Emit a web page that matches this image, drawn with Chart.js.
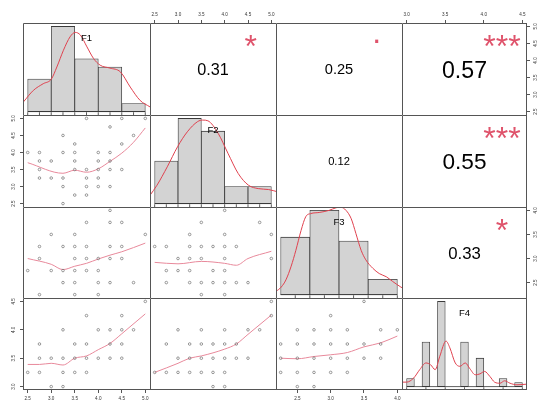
<!DOCTYPE html>
<html lang="en">
<head>
<meta charset="UTF-8">
<title>Correlation matrix F1-F4</title>
<script src="https://cdn.jsdelivr.net/npm/chart.js@4.4.1/dist/chart.umd.min.js"></script>
<style>
    body { margin: 0; background: #fff; overflow: hidden; }
    #grid { position: relative; width: 552px; height: 414px; background: #fff; }
    .cell { position: absolute; }
    .cell canvas { display: block; }
</style>
</head>
<body>
<div id="grid"></div>
<script>
// ---- data ----
const varNames = ['F1', 'F2', 'F3', 'F4'];

// observed min / max of each variable
const rangeF1 = [2.5, 5.0];
const rangeF2 = [2.5, 5.0];
const rangeF3 = [2.25, 4.0];
const rangeF4 = [3.0, 4.5];

// outer axis tick labels
const ticksF1 = [2.5, 3.0, 3.5, 4.0, 4.5, 5.0];
const ticksF2 = [2.5, 3.0, 3.5, 4.0, 4.5, 5.0];
const ticksF3 = [2.5, 3.0, 3.5, 4.0];
const ticksF4 = [3.0, 3.5, 4.0, 4.5];

// histograms (diagonal)
const breaksF1 = [2.5, 3.0, 3.5, 4.0, 4.5, 5.0];
const countsF1 = [8, 21, 13, 11, 2];
const breaksF2 = [2.5, 3.0, 3.5, 4.0, 4.5, 5.0];
const countsF2 = [10, 20, 17, 4, 4];
const breaksF3 = [2.0, 2.5, 3.0, 3.5, 4.0];
const countsF3 = [15, 22, 14, 4];
const breaksF4 = [3.0, 3.1, 3.2, 3.3, 3.4, 3.5, 3.6, 3.7, 3.8, 3.9, 4.0, 4.1, 4.2, 4.3, 4.4, 4.5];
const countsF4 = [2, 0, 11, 0, 21, 0, 0, 11, 0, 7, 0, 0, 2, 0, 1];

// distinct values (rug)
const rugF1 = [2.5, 2.75, 3.0, 3.25, 3.5, 3.75, 4.0, 4.25, 4.5, 4.75, 5.0];
const rugF2 = [2.5, 2.75, 3.0, 3.25, 3.5, 3.75, 4.0, 4.25, 4.5, 4.75, 5.0];
const rugF3 = [2.25, 2.5, 2.75, 3.0, 3.25, 3.5, 3.75, 4.0];
const rugF4 = [3.0, 3.25, 3.5, 3.75, 4.0, 4.25, 4.5];

// kernel density curves [x, density]
const densF1 = [[2.41,0.087],[2.62,0.19],[2.83,0.25],[3.0,0.29],[3.12,0.40],[3.26,0.55],[3.40,0.67],[3.51,0.71],[3.62,0.686],[3.76,0.58],[3.90,0.476],[4.04,0.416],[4.25,0.39],[4.47,0.356],[4.68,0.22],[4.89,0.10],[5.10,0.042]];
const densF2 = [[2.40,0.071],[2.55,0.157],[2.77,0.314],[2.99,0.485],[3.20,0.613],[3.42,0.70],[3.53,0.713],[3.64,0.707],[3.86,0.60],[4.07,0.43],[4.29,0.257],[4.51,0.157],[4.72,0.128],[4.94,0.12],[5.14,0.10]];
const densF3 = [[1.92,0.03],[2.01,0.072],[2.09,0.14],[2.18,0.27],[2.26,0.42],[2.35,0.61],[2.43,0.74],[2.52,0.77],[2.66,0.78],[2.83,0.80],[2.95,0.825],[3.03,0.83],[3.12,0.80],[3.21,0.72],[3.29,0.58],[3.38,0.42],[3.46,0.33],[3.58,0.25],[3.69,0.20],[3.81,0.17],[3.92,0.125],[4.06,0.072],[4.10,0.06]];
const densF4 = [[2.94,0.2],[3.0,0.2],[3.09,0.38],[3.17,0.76],[3.25,1.06],[3.31,0.98],[3.37,0.76],[3.43,1.36],[3.51,2.04],[3.56,1.74],[3.63,1.06],[3.69,0.91],[3.76,1.06],[3.82,0.8],[3.89,0.53],[3.95,0.57],[4.01,0.68],[4.08,0.45],[4.14,0.2],[4.21,0.15],[4.27,0.26],[4.34,0.15],[4.43,0.08],[4.56,0.11]];

// scatter points [x, y] (lower panels), x = column variable, y = row variable
const ptsF1F2 = [[3.75,5],[4.5,5],[5,5],[4.25,4.75],[3.25,4.5],[4.75,4.5],[3.5,4.25],[4.5,4.25],
    [2.5,4],[2.75,4],[3.25,4],[3.5,4],[4,4],[4.25,4],
    [2.75,3.75],[3,3.75],[3.5,3.75],[4,3.75],[4.25,3.75],
    [2.75,3.5],[3.5,3.5],[3.75,3.5],[4,3.5],[4.25,3.5],[4.5,3.5],
    [2.75,3.25],[3,3.25],[3.25,3.25],[3.75,3.25],[4,3.25],
    [3.25,3],[3.75,3],[4,3],[4.25,3],[3.5,2.75],[3.75,2.75],[3.25,2.5]];
const ptsF1F3 = [[4.25,4],[3.75,3.75],[4.25,3.75],[4.5,3.75],[3,3.5],[3.5,3.5],[5,3.5],
    [2.75,3.25],[3.25,3.25],[3.5,3.25],[3.75,3.25],[4.25,3.25],[4.5,3.25],
    [2.75,3],[3.5,3],[3.75,3],[4,3],[4.25,3],[4.5,3],
    [2.5,2.75],[3,2.75],[3.25,2.75],[3.5,2.75],[3.75,2.75],[4,2.75],
    [3.25,2.5],[3.5,2.5],[4,2.5],[4.25,2.5],[4.75,2.5],
    [2.75,2.25],[3.5,2.25],[4,2.25]];
const ptsF2F3 = [[4,4],[3.5,3.75],[4.75,3.75],[3.25,3.5],[4,3.5],[5,3.5],
    [2.5,3.25],[2.75,3.25],[3.25,3.25],[3.5,3.25],[3.75,3.25],[4,3.25],[4.25,3.25],
    [3,3],[3.25,3],[3.5,3],[4,3],[5,3],
    [2.75,2.75],[3,2.75],[3.25,2.75],[3.75,2.75],[4,2.75],
    [2.75,2.5],[3.25,2.5],[3.5,2.5],[3.75,2.5],[4,2.5],[4.25,2.5],[4.5,2.5],
    [3.5,2.25],[4,2.25]];
const ptsF1F4 = [[5,4.5],[3.75,4.25],[4.5,4.25],[3.25,4],[4,4],[4.25,4],[4.5,4],[4.75,4],
    [2.75,3.75],[3.5,3.75],[3.75,3.75],[4.25,3.75],[4.5,3.75],
    [2.75,3.5],[3,3.5],[3.25,3.5],[3.5,3.5],[3.75,3.5],[4,3.5],[4.25,3.5],[4.5,3.5],
    [2.5,3.25],[2.75,3.25],[3.25,3.25],[3.5,3.25],[3.75,3.25],
    [3,3],[3.25,3]];
const ptsF2F4 = [[5,4.5],[5,4.25],[3,4],[3.5,4],[4,4],[4.5,4],[4.75,4],
    [2.75,3.75],[3.25,3.75],[3.5,3.75],[3.75,3.75],[4,3.75],[4.25,3.75],
    [3,3.5],[3.25,3.5],[3.5,3.5],[3.75,3.5],[4,3.5],[4.25,3.5],[4.5,3.5],
    [2.5,3.25],[2.75,3.25],[3,3.25],[3.25,3.25],[3.5,3.25],[3.75,3.25],[4,3.25],
    [3.75,3],[4,3]];
const ptsF3F4 = [[3.5,4.5],[3,4.25],[2.5,4],[2.75,4],[3,4],[3.25,4],[3.75,4],[4,4],
    [2.25,3.75],[2.5,3.75],[2.75,3.75],[3,3.75],[3.25,3.75],[3.5,3.75],[3.75,3.75],
    [2.25,3.5],[2.5,3.5],[2.75,3.5],[3,3.5],[3.25,3.5],[3.5,3.5],[3.75,3.5],
    [2.25,3.25],[2.5,3.25],[2.75,3.25],[3,3.25],[3.25,3.25],
    [2.5,3],[2.75,3]];

// smoother lines through each scatter
const smoothF1F2 = [[2.5,3.70],[3.25,3.39],[3.5,3.48],[3.75,3.42],[4.0,3.52],[4.25,3.74],[4.5,3.98],[4.75,4.30],[5.0,4.72]];
const smoothF1F3 = [[2.5,3.0],[3.0,2.88],[3.25,2.77],[3.5,2.84],[3.75,2.9],[4.0,2.99],[4.25,3.07],[4.5,3.14],[5.0,3.32]];
const smoothF2F3 = [[2.5,2.92],[3.0,2.89],[3.5,2.94],[4.0,2.9],[4.25,2.86],[4.5,3.0],[5.0,3.15]];
const smoothF1F4 = [[2.5,3.39],[2.75,3.39],[3.0,3.41],[3.25,3.38],[3.5,3.5],[3.75,3.54],[4.0,3.65],[4.25,3.76],[4.5,3.93],[5.0,4.28]];
const smoothF2F4 = [[2.5,3.25],[3.0,3.41],[3.25,3.5],[3.5,3.54],[4.0,3.66],[4.25,3.75],[4.5,3.92],[5.0,4.26]];
const smoothF3F4 = [[2.25,3.5],[2.5,3.49],[2.75,3.53],[3.0,3.56],[3.25,3.6],[3.5,3.7],[3.75,3.77],[4.0,3.89]];

// correlations (upper panels)
const corPairs = ['F1F2', 'F1F3', 'F1F4', 'F2F3', 'F2F4', 'F3F4'];
const corValues = [0.31, 0.25, 0.57, 0.12, 0.55, 0.33];
const corStars = ['*', '.', '***', '', '***', '*'];

// ---- lookup tables built from the arrays above ----
const ranges = { F1: rangeF1, F2: rangeF2, F3: rangeF3, F4: rangeF4 };
const tickSets = { F1: ticksF1, F2: ticksF2, F3: ticksF3, F4: ticksF4 };
const hists = {
    F1: [breaksF1, countsF1, densF1, rugF1],
    F2: [breaksF2, countsF2, densF2, rugF2],
    F3: [breaksF3, countsF3, densF3, rugF3],
    F4: [breaksF4, countsF4, densF4, rugF4]
};
const scatters = {
    F1F2: [ptsF1F2, smoothF1F2], F1F3: [ptsF1F3, smoothF1F3], F2F3: [ptsF2F3, smoothF2F3],
    F1F4: [ptsF1F4, smoothF1F4], F2F4: [ptsF2F4, smoothF2F4], F3F4: [ptsF3F4, smoothF3F4]
};

// ---- layout ----
const colEdges = [23, 150, 276, 402, 527];
const rowEdges = [23, 115, 207, 298, 390];
const BAND = 22;
const FONT = '"Liberation Sans", Arial, sans-serif';
const RED = '#df536b';

const toXY = arr => arr.map(p => ({ x: p[0], y: p[1] }));

// panel box (R draws a box round every panel)
const framePlugin = {
    id: 'frame',
    afterDraw(chart, args, o) {
        const { ctx, chartArea: a } = chart;
        ctx.save();
        ctx.strokeStyle = '#555';
        ctx.lineWidth = 1;
        ctx.beginPath();
        ctx.moveTo(a.left + 0.5, a.bottom);
        ctx.lineTo(a.left + 0.5, a.top + 0.5);
        ctx.lineTo(a.right, a.top + 0.5);
        if (o.right) { ctx.moveTo(a.right - 0.5, a.top); ctx.lineTo(a.right - 0.5, a.bottom); }
        if (o.bottom) { ctx.moveTo(a.left, a.bottom - 0.5); ctx.lineTo(a.right, a.bottom - 0.5); }
        ctx.stroke();
        ctx.restore();
    }
};

// text placed in panel fractions (u, v), ink centred vertically like R does
const textPlugin = {
    id: 'panelText',
    afterDatasetsDraw(chart, args, o) {
        const items = o.items || [];
        const { ctx, chartArea: a } = chart;
        for (const t of items) {
            ctx.save();
            ctx.font = t.size + 'px ' + FONT;
            ctx.fillStyle = t.color;
            ctx.textAlign = 'center';
            ctx.textBaseline = 'alphabetic';
            const m = ctx.measureText(t.text);
            const x = a.left + t.u * (a.right - a.left);
            const y = a.bottom - t.v * (a.bottom - a.top);
            ctx.fillText(t.text, x, y + (m.actualBoundingBoxAscent - m.actualBoundingBoxDescent) / 2);
            ctx.restore();
        }
    }
};
Chart.register(framePlugin, textPlugin);

// scale for a variable, optionally shown as an outer axis
function varScale(name, pos) {
    const [lo, hi] = ranges[name];
    const pad = (hi - lo) * 0.04;
    const s = { type: 'linear', min: lo - pad, max: hi + pad, display: false, offset: false };
    if (!pos) return s;
    const vertical = pos === 'left' || pos === 'right';
    return Object.assign(s, {
        display: true,
        position: pos,
        grid: { drawOnChartArea: false, drawTicks: true, tickLength: 3, color: '#555', lineWidth: 1 },
        border: { display: false },
        ticks: {
            font: { size: 4.6, family: FONT },
            color: '#333',
            padding: 3,
            autoSkip: false,
            minRotation: vertical ? 90 : 0,
            maxRotation: vertical ? 90 : 0,
            crossAlign: vertical ? 'center' : 'near',
            callback: v => v.toFixed(1)
        },
        afterBuildTicks: sc => { sc.ticks = tickSets[name].map(v => ({ value: v })); },
        afterFit: sc => {
            if (vertical) sc.width = BAND; else sc.height = BAND;
            // keep the plot area equal to the panel: no room for overhanging labels
            sc.paddingTop = sc.paddingBottom = sc.paddingLeft = sc.paddingRight = 0;
        }
    });
}

function baseOptions(scales, texts) {
    return {
        responsive: true,
        maintainAspectRatio: false,
        animation: false,
        events: [],
        layout: { padding: 0, autoPadding: false },
        plugins: {
            legend: { display: false },
            tooltip: { enabled: false },
            panelText: { items: texts }
        },
        scales
    };
}

function histConfig(name) {
    const [breaks, counts, dens, rug] = hists[name];
    const n = counts.reduce((a, b) => a + b, 0);
    const bars = counts.map((c, i) => ({
        x: (breaks[i] + breaks[i + 1]) / 2,
        y: c / (n * (breaks[i + 1] - breaks[i]))
    }));
    const top = Math.max(...bars.map(b => b.y));
    const lo = breaks[0], hi = breaks[breaks.length - 1], pad = (hi - lo) * 0.04;
    return {
        type: 'bar',
        data: {
            datasets: [
                { data: bars, backgroundColor: '#d3d3d3', borderColor: '#3a3a3a', borderWidth: 0.8,
                  borderSkipped: false, barPercentage: 1, categoryPercentage: 1, order: 4 },
                { type: 'line', data: [{ x: lo, y: 0 }, { x: hi, y: 0 }], borderColor: '#3a3a3a',
                  borderWidth: 0.8, pointRadius: 0, order: 3 },
                { type: 'line', data: rug.map(v => ({ x: v, y: -0.024 * top })), showLine: false,
                  pointStyle: 'line', rotation: 90, pointRadius: 1.4, pointBorderColor: '#333',
                  pointBorderWidth: 0.8, order: 2 },
                { type: 'line', data: toXY(dens), borderColor: '#e0424f', borderWidth: 1,
                  pointRadius: 0, cubicInterpolationMode: 'monotone', order: 1 }
            ]
        },
        options: baseOptions({
            x: { type: 'linear', min: lo - pad, max: hi + pad, display: false, offset: false },
            y: { type: 'linear', min: -0.04 * top, max: 1.04 * top, display: false }
        }, [{ u: 0.5, v: 0.833, text: name, size: 9.5, color: '#000' }])
    };
}

function scatterConfig(xName, yName, sides) {
    const [pts, smooth] = scatters[xName + yName];
    return {
        type: 'scatter',
        data: {
            datasets: [
                { data: toXY(pts), pointStyle: 'circle', pointRadius: 1.3, borderWidth: 0.7,
                  borderColor: '#707070', backgroundColor: 'rgba(0,0,0,0)' },
                { type: 'line', data: toXY(smooth), borderColor: '#e8899b', borderWidth: 1,
                  pointRadius: 0, cubicInterpolationMode: 'monotone', fill: false }
            ]
        },
        options: baseOptions({
            x: varScale(xName, sides.top ? 'top' : sides.bottom ? 'bottom' : null),
            y: varScale(yName, sides.left ? 'left' : sides.right ? 'right' : null)
        }, [])
    };
}

function corConfig(rowName, colName, sides) {
    const k = corPairs.indexOf(rowName + colName);
    const r = corValues[k];
    const texts = [{ u: 0.5, v: 0.5, text: r.toFixed(2), size: 26.6 * (Math.abs(r) + 0.3), color: '#000' }];
    if (corStars[k]) texts.push({ u: 0.8, v: 0.8, text: corStars[k], size: 32, color: RED });
    return {
        type: 'scatter',
        data: { datasets: [] },
        options: baseOptions({
            x: varScale(colName, sides.top ? 'top' : sides.bottom ? 'bottom' : null),
            y: varScale(rowName, sides.left ? 'left' : sides.right ? 'right' : null)
        }, texts)
    };
}

const grid = document.getElementById('grid');

function mount(r, c, sides, cfg) {
    const x0 = colEdges[c] - (sides.left ? BAND : 0);
    const y0 = rowEdges[r] - (sides.top ? BAND : 0);
    const w = colEdges[c + 1] - colEdges[c] + (sides.left ? BAND : 0) + (sides.right ? BAND : 0);
    const h = rowEdges[r + 1] - rowEdges[r] + (sides.top ? BAND : 0) + (sides.bottom ? BAND : 0);
    const box = document.createElement('div');
    box.className = 'cell';
    box.style.cssText = `left:${x0}px;top:${y0}px;width:${w}px;height:${h}px`;
    const cv = document.createElement('canvas');
    box.appendChild(cv);
    grid.appendChild(box);
    cfg.options.plugins.frame = { right: c === 3, bottom: r === 3 };
    new Chart(cv, cfg);
}

for (let r = 0; r < 4; r++) {
    for (let c = 0; c < 4; c++) {
        // R pairs(): axes alternate round the outside
        const sides = {
            top: r === 0 && c % 2 === 1,
            bottom: r === 3 && c % 2 === 0,
            left: c === 0 && r % 2 === 1,
            right: c === 3 && r % 2 === 0
        };
        let cfg;
        if (r === c) cfg = histConfig(varNames[r]);
        else if (r > c) cfg = scatterConfig(varNames[c], varNames[r], sides);
        else cfg = corConfig(varNames[r], varNames[c], sides);
        mount(r, c, sides, cfg);
    }
}
</script>
</body>
</html>
